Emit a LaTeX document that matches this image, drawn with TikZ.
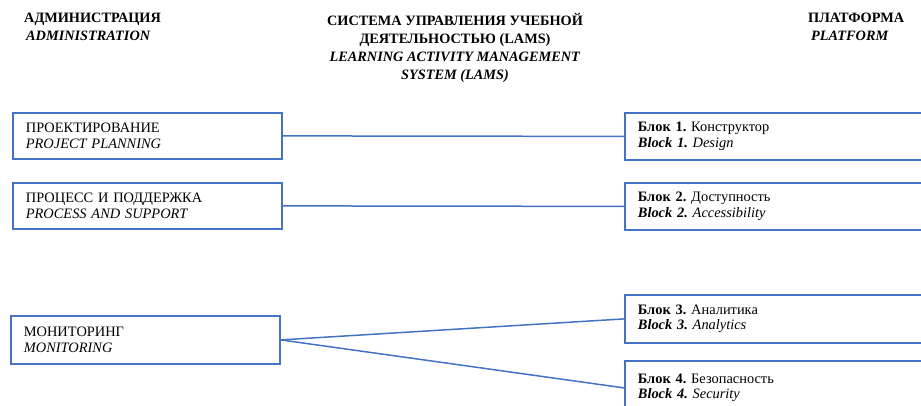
\documentclass[tikz,border=0pt]{standalone}
\usepackage{fontspec}
\setmainfont{Liberation Serif}
\frenchspacing
\definecolor{boxblue}{RGB}{68,114,196}
\tikzset{
  lbox/.style={draw=boxblue, line width=1.8pt, rectangle, anchor=north west,
    minimum height=47pt, inner xsep=13pt, text width=243pt, align=left,
    font=\fontsize{14.4}{15.5}\selectfont},
  rbox/.style={lbox, text width=300pt},
  hdr/.style={font=\fontsize{14.3}{18}\selectfont\bfseries, inner sep=0pt},
  link/.style={draw=boxblue, line width=1.5pt}
}

\begin{document}
\begin{tikzpicture}[x=1pt,y=-1pt]
			%%%%% START %%%%%
			\clip (0,0) rectangle (921,406);

			% headers
			\node[hdr, anchor=north west, align=left] (adm) at (24,13) {АДМИНИСТРАЦИЯ\\\hspace{2pt}\textit{ADMINISTRATION}};
			\node[hdr, anchor=north, align=center] (lams) at (455,13) {СИСТЕМА УПРАВЛЕНИЯ УЧЕБНОЙ\\ДЕЯТЕЛЬНОСТЬЮ (LAMS)\\\textit{LEARNING ACTIVITY MANAGEMENT}\\\textit{SYSTEM (LAMS)}};
			\node[hdr, anchor=north west, align=left] (plat) at (808,13) {ПЛАТФОРМА\\\hspace{3pt}\textit{PLATFORM}};

			% administration
			\node[lbox, minimum height=46pt] (proj) at (12,112) {ПРОЕКТИРОВАНИЕ\\\textit{PROJECT PLANNING}};
			\node[lbox, minimum height=46pt] (proc) at (12,182) {ПРОЦЕСС И ПОДДЕРЖКА\\\textit{PROCESS AND SUPPORT}};
			\node[lbox, minimum height=48pt] (mon) at (10,315) {МОНИТОРИНГ\\\textit{MONITORING}};

			% platform
			\node[rbox] (b1) at (624,112) {\textbf{Блок 1.} Конструктор\\\textbf{\textit{Block 1.}} \textit{Design}};
			\node[rbox] (b2) at (624,182) {\textbf{Блок 2.} Доступность\\\textbf{\textit{Block 2.}} \textit{Accessibility}};
			\node[rbox, minimum height=48pt] (b3) at (624,294) {\textbf{Блок 3.} Аналитика\\\textbf{\textit{Block 3.}} \textit{Analytics}};
			\node[rbox, minimum height=54pt] (b4) at (624,360) {\textbf{Блок 4.} Безопасность\\\textbf{\textit{Block 4.}} \textit{Security}};

			% links
			\draw[link] (proj.east) -- (b1.west);
			\draw[link] (proc.east) -- (b2.west);
			\draw[link] (mon.east) -- (b3.west);
			\draw[link] (mon.east) -- (b4.west);
			%%%%% END %%%%%
\end{tikzpicture}
\end{document}
